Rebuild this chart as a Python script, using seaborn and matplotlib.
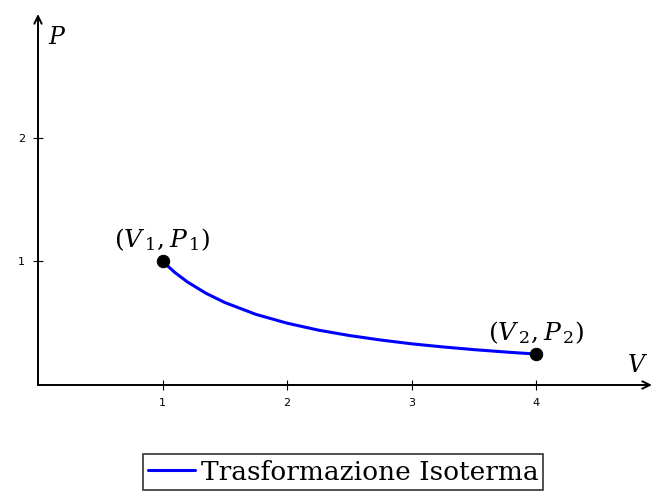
import matplotlib
matplotlib.use("Agg")
import matplotlib.pyplot as plt
import seaborn as sns
import pandas as pd

sns.set_theme(style="white")
plt.rcParams["font.family"] = ["DejaVu Serif"]
plt.rcParams["mathtext.fontset"] = "dejavuserif"
plt.rcParams["text.color"] = "black"
plt.rcParams["xtick.color"] = "black"
plt.rcParams["ytick.color"] = "black"

# Isothermal curve P = P1*V1/V sampled along the path
volume = [1.0, 1.1, 1.2, 1.35, 1.5, 1.75, 2.0, 2.25, 2.5, 2.75, 3.0, 3.25, 3.5, 3.75, 4.0]
pressure = [1.0, 0.909, 0.833, 0.741, 0.667, 0.571, 0.5, 0.444, 0.4, 0.364,
            0.333, 0.308, 0.286, 0.267, 0.25]

# End states
state_v = [1.0, 4.0]
state_p = [1.0, 0.25]
state_labels = [r"$(V_{\,1},P_{\,1})$", r"$(V_{\,2},P_{\,2})$"]

x_ticks = [1, 2, 3, 4]
y_ticks = [1, 2]

curve = pd.DataFrame({"V": volume, "P": pressure, "serie": "Trasformazione Isoterma"})
states = pd.DataFrame({"V": state_v, "P": state_p})

fig = plt.figure(figsize=(6.55, 4.95), dpi=100)
ax = fig.add_axes([38 / 655, 110 / 495, 614 / 655, 371 / 495])

x_max, y_max = 4.93, 3.0
ax.set_xlim(0, x_max)
ax.set_ylim(0, y_max)

sns.lineplot(data=curve, x="V", y="P", hue="serie", palette=["#0000ff"],
             linewidth=2.2, ax=ax, legend=False, sort=False)
sns.scatterplot(data=states, x="V", y="P", color="black", s=80,
                edgecolor="black", zorder=5, ax=ax, legend=False)

for v, p, lab in zip(state_v, state_p, state_labels):
    ax.annotate(lab, (v, p), xytext=(0, 6), textcoords="offset points",
                ha="center", va="bottom", fontsize=18)

# Axes drawn as arrows from the origin
for s in ax.spines.values():
    s.set_visible(False)
arrow = dict(arrowstyle="->,head_length=0.45,head_width=0.22", color="black",
             lw=1.4, shrinkA=0, shrinkB=0)
ax.annotate("", xy=(x_max, 0), xytext=(0, 0), arrowprops=arrow, annotation_clip=False)
ax.annotate("", xy=(0, y_max), xytext=(0, 0), arrowprops=arrow, annotation_clip=False)

ax.text(0.08, 2.81, "$P$", fontsize=17, ha="left", va="center")
ax.text(4.73, 0.16, "$V$", fontsize=17, ha="left", va="center")

ax.set_xticks(x_ticks)
ax.set_yticks(y_ticks)
ax.set_xticklabels([str(t) for t in x_ticks], family="DejaVu Sans")
ax.set_yticklabels([str(t) for t in y_ticks], family="DejaVu Sans")
ax.tick_params(axis="both", direction="inout", length=7, width=0.8, color="black",
               labelsize=8, pad=6, bottom=True, left=True)
ax.set_xlabel("")
ax.set_ylabel("")

handle = plt.Line2D([], [], color="#0000ff", lw=2.2)
leg = fig.legend([handle], ["Trasformazione Isoterma"], loc="center",
                 bbox_to_anchor=(343 / 655, 1 - 472 / 495), fontsize=19,
                 frameon=True, fancybox=False, edgecolor="black",
                 handlelength=1.8, handletextpad=0.2, borderpad=0.2,
                 borderaxespad=0)
leg.get_frame().set_linewidth(1.2)

fig.savefig("out.png", dpi=100)
